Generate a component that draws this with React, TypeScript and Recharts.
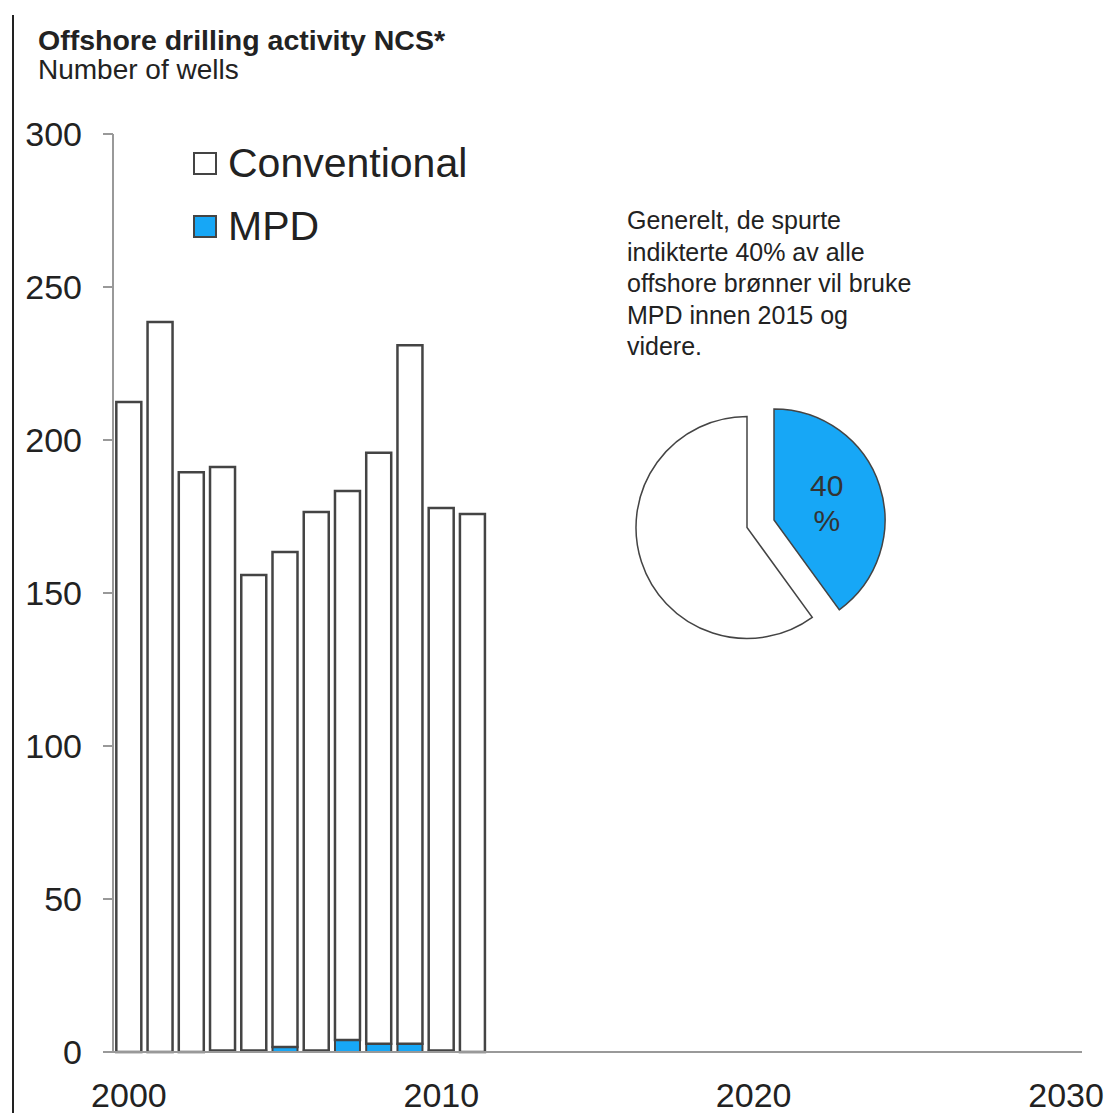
import { Bar, BarChart, Cell, Legend, Pie, PieChart, XAxis, YAxis } from "recharts";

const years = [2000, 2001, 2002, 2003, 2004, 2005, 2006, 2007, 2008, 2009, 2010, 2011];
const conventional = [212.4, 238.6, 189.5, 190.7, 155.4, 161.8, 176.0, 179.4, 193.1, 228.3, 177.3, 175.8];
const mpd = [0, 0, 0, 0.5, 0.5, 1.6, 0.5, 3.9, 2.7, 2.7, 0.5, 0];
const yTicks = [0, 50, 100, 150, 200, 250, 300];
const xTicks = [2000, 2010, 2020, 2030];

const pieShare = [
  { name: "MPD", value: 40 },
  { name: "Conventional", value: 60 },
];

const noteLines = [
  "Generelt, de spurte",
  "indikterte 40% av alle",
  "offshore brønner vil bruke",
  "MPD innen 2015 og",
  "videre.",
];

const legendItems = [
  { label: "Conventional", fill: "#ffffff" },
  { label: "MPD", fill: "#17a7f6" },
];

const BLUE = "#17a7f6";
const EDGE = "#444";
const FONT = "'Liberation Sans', Arial, sans-serif";

const rows = years.map((year, i) => ({ year, mpd: mpd[i], conventional: conventional[i] }));

function LegendBox() {
  return (
    <div style={{ fontFamily: FONT }}>
      {legendItems.map((item) => (
        <div key={item.label} style={{ display: "flex", alignItems: "center", height: 63 }}>
          <span
            style={{
              display: "inline-block",
              width: 20,
              height: 19,
              background: item.fill,
              border: `2px solid ${EDGE}`,
              marginRight: 11,
            }}
          />
          <span style={{ fontSize: 41, lineHeight: "41px", color: "#222" }}>{item.label}</span>
        </div>
      ))}
    </div>
  );
}

const RADIAN = Math.PI / 180;

function pieLabel(props: any) {
  const { cx, cy, midAngle, outerRadius, value, index } = props;
  if (index !== 0) return null;
  const r = outerRadius * 0.5;
  const x = cx + r * Math.cos(-midAngle * RADIAN);
  const y = cy + r * Math.sin(-midAngle * RADIAN);
  return (
    <text x={x} y={y} fill="#333" fontSize={30} fontFamily={FONT} textAnchor="middle">
      <tspan x={x} dy={-7}>{value}</tspan>
      <tspan x={x} dy={35}>%</tspan>
    </text>
  );
}

export default function App() {
  return (
    <div style={{ position: "absolute", left: 0, top: 0, width: 1109, height: 1113, background: "#fff", fontFamily: FONT }}>
      <div style={{ position: "absolute", left: 12, top: 15, width: 2, height: 1098, background: "#222" }} />
      <div style={{ position: "absolute", left: 38, top: 26, fontSize: 28.5, lineHeight: "28px", fontWeight: 700, color: "#222", whiteSpace: "nowrap" }}>
        Offshore drilling activity NCS*
      </div>
      <div style={{ position: "absolute", left: 38, top: 56, fontSize: 28, lineHeight: "27px", color: "#222", whiteSpace: "nowrap" }}>
        Number of wells
      </div>

      <div style={{ position: "absolute", left: 0, top: 0 }}>
        <BarChart width={1109} height={1113} data={rows} margin={{ top: 134, right: 27, bottom: 0, left: 0 }} barSize={25}>
          <XAxis
            dataKey="year"
            type="number"
            domain={[1999.49, 2030.51]}
            allowDataOverflow
            ticks={xTicks}
            height={61}
            tickLine={false}
            tickSize={0}
            tickMargin={31}
            axisLine={{ stroke: "#999", strokeWidth: 2 }}
            tick={{ fontSize: 34, fill: "#222", fontFamily: FONT }}
          />
          <YAxis
            domain={[0, 300]}
            ticks={yTicks}
            width={113}
            tickSize={10}
            tickMargin={21}
            axisLine={{ stroke: "#999", strokeWidth: 2 }}
            tickLine={{ stroke: "#999", strokeWidth: 2 }}
            tick={{ fontSize: 34, fill: "#222", fontFamily: FONT }}
          />
          <Legend
            layout="horizontal"
            verticalAlign="middle"
            align="center"
            content={() => <LegendBox />}
            wrapperStyle={{ left: 193, top: 132, width: 320, height: 126 }}
          />
          <Bar dataKey="mpd" name="MPD" stackId="wells" fill={BLUE} stroke={EDGE} strokeWidth={2} isAnimationActive={false} />
          <Bar dataKey="conventional" name="Conventional" stackId="wells" fill="#fff" stroke={EDGE} strokeWidth={2.5} isAnimationActive={false} />
        </BarChart>
      </div>

      <div style={{ position: "absolute", left: 627, top: 205, fontSize: 25, lineHeight: "31.5px", color: "#222", whiteSpace: "nowrap" }}>
        {noteLines.map((line) => (
          <div key={line}>{line}</div>
        ))}
      </div>

      <div style={{ position: "absolute", left: 600, top: 380 }}>
        <PieChart width={320} height={290} margin={{ top: 0, right: 0, bottom: 0, left: 0 }}>
          <Pie
            data={pieShare}
            dataKey="value"
            nameKey="name"
            cx={147}
            cy={147.5}
            outerRadius={111}
            startAngle={90}
            endAngle={-270}
            isAnimationActive={false}
          >
            <Cell fill="none" stroke="none" />
            <Cell fill="#fff" stroke={EDGE} strokeWidth={1.5} />
          </Pie>
          <Pie
            data={pieShare}
            dataKey="value"
            nameKey="name"
            cx={174}
            cy={140}
            outerRadius={111}
            startAngle={90}
            endAngle={-270}
            label={pieLabel}
            labelLine={false}
            isAnimationActive={false}
          >
            <Cell fill={BLUE} stroke={EDGE} strokeWidth={1.5} />
            <Cell fill="none" stroke="none" />
          </Pie>
        </PieChart>
      </div>
    </div>
  );
}
